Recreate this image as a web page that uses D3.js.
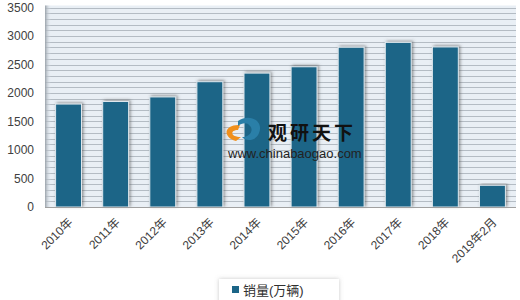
<!DOCTYPE html>
<html>
<head>
<meta charset="utf-8">
<script src="https://cdn.jsdelivr.net/npm/d3@7"></script>
<style>
  body { margin: 0; background: #fff; }
  svg { display: block; font-family: "Liberation Sans", "Noto Sans CJK SC", sans-serif; }
</style>
</head>
<body>
<svg id="chart" width="520" height="300"></svg>
<script>
// data
const years = ['2010年', '2011年', '2012年', '2013年', '2014年', '2015年', '2016年', '2017年', '2018年', '2019年2月'];
const sales = [1806, 1851, 1931, 2198, 2349, 2460, 2803, 2888, 2808, 381];
const yTicks = [0, 500, 1000, 1500, 2000, 2500, 3000, 3500];
const seriesName = '销量(万辆)';

const svg = d3.select('#chart');
const plotLeft = 45, plotRight = 516, plotTop = 7.5, plotBottom = 207;

const x = d3.scaleBand().domain(years).range([plotLeft, plotRight]).paddingInner(0.45).paddingOuter(0.225);
const y = d3.scaleLinear().domain([0, 3500]).range([plotBottom, plotTop]);

const defs = svg.append('defs');
const shadow = defs.append('filter').attr('id', 'barShadow')
  .attr('x', '-30%').attr('y', '-10%').attr('width', '160%').attr('height', '120%');
shadow.append('feDropShadow')
  .attr('dx', 1.5).attr('dy', -1).attr('stdDeviation', 1.4)
  .attr('flood-color', '#505050').attr('flood-opacity', 0.6);

const boxShadow = defs.append('filter').attr('id', 'boxShadow')
  .attr('x', '-20%').attr('y', '-40%').attr('width', '140%').attr('height', '180%');
boxShadow.append('feDropShadow')
  .attr('dx', 0).attr('dy', 0).attr('stdDeviation', 2)
  .attr('flood-color', '#909090').attr('flood-opacity', 0.5);

const edge = defs.append('linearGradient').attr('id', 'leftEdge');
edge.append('stop').attr('offset', '0%').attr('stop-color', '#9aa2aa');
edge.append('stop').attr('offset', '100%').attr('stop-color', '#e8eef4').attr('stop-opacity', 0);

// plot background with fine stripes
svg.append('rect')
  .attr('x', plotLeft).attr('y', y(3500) - 2)
  .attr('width', plotRight - plotLeft).attr('height', plotBottom - y(3500) + 2)
  .attr('fill', '#e9eff5');

svg.append('g')
  .selectAll('line')
  .data(d3.range(100, 3600, 100))
  .join('line')
  .attr('x1', plotLeft).attr('x2', plotRight)
  .attr('y1', d => Math.round(y(d)) + 0.5).attr('y2', d => Math.round(y(d)) + 0.5)
  .attr('stroke', '#b4bcc4').attr('stroke-width', 1);

svg.append('rect')
  .attr('x', plotLeft).attr('y', y(3500) - 2)
  .attr('width', 6).attr('height', plotBottom - y(3500) + 2)
  .attr('fill', 'url(#leftEdge)');

// bars
svg.append('g')
  .selectAll('rect')
  .data(sales)
  .join('rect')
  .attr('x', (d, i) => x(years[i]))
  .attr('y', d => y(d))
  .attr('width', x.bandwidth())
  .attr('height', d => plotBottom - y(d))
  .attr('fill', '#1b6587')
  .attr('stroke', '#dfe8ee').attr('stroke-width', 1)
  .attr('filter', 'url(#barShadow)');

// baseline
svg.append('line')
  .attr('x1', plotLeft).attr('x2', plotRight)
  .attr('y1', plotBottom + 0.5).attr('y2', plotBottom + 0.5)
  .attr('stroke', '#a0a0a0');

// y axis labels
svg.append('g')
  .selectAll('text')
  .data(yTicks)
  .join('text')
  .attr('x', 34).attr('y', d => y(d))
  .attr('dy', '0.35em')
  .attr('text-anchor', 'end')
  .attr('font-size', 12)
  .attr('fill', '#404040')
  .text(d => d);

// x axis labels
svg.append('g')
  .selectAll('text')
  .data(years)
  .join('text')
  .attr('transform', d => `translate(${x(d) + x.bandwidth() / 2 + 2},${plotBottom + 13}) rotate(-45)`)
  .attr('text-anchor', 'end')
  .attr('dy', '0.35em')
  .attr('font-size', 12)
  .attr('fill', '#404040')
  .text(d => d);

// watermark
const wm = svg.append('g');
wm.append('path')
  .attr('d', 'M 236 141 C 222 137, 224 124, 240 125 L 238 130 C 230 130, 230 137, 241 137 Z')
  .attr('fill', '#f0901c');
wm.append('path')
  .attr('d', 'M 238 121 C 250 113, 264 121, 259 133 C 256 141, 246 142, 242 137 C 250 137, 254 130, 250 126 C 247 122, 242 123, 238 126 Z')
  .attr('fill', '#2a7fa8');
wm.append('text')
  .attr('x', 268).attr('y', 140)
  .attr('font-size', 19).attr('font-weight', 'bold')
  .attr('letter-spacing', 3)
  .attr('font-family', '"Noto Sans CJK SC", sans-serif')
  .attr('fill', '#111')
  .text('观研天下');
wm.append('text')
  .attr('x', 228).attr('y', 158)
  .attr('font-size', 13)
  .attr('fill', '#222')
  .text('www.chinabaogao.com');

// legend
const lg = svg.append('g');
lg.append('rect')
  .attr('x', 219).attr('y', 279).attr('width', 120).attr('height', 30)
  .attr('fill', '#fff').attr('filter', 'url(#boxShadow)');
lg.append('rect')
  .attr('x', 232).attr('y', 286).attr('width', 7).attr('height', 7)
  .attr('fill', '#1b6587');
lg.append('text')
  .attr('x', 243).attr('y', 294.5)
  .attr('font-size', 13)
  .attr('fill', '#303030')
  .text(seriesName);
</script>
</body>
</html>
